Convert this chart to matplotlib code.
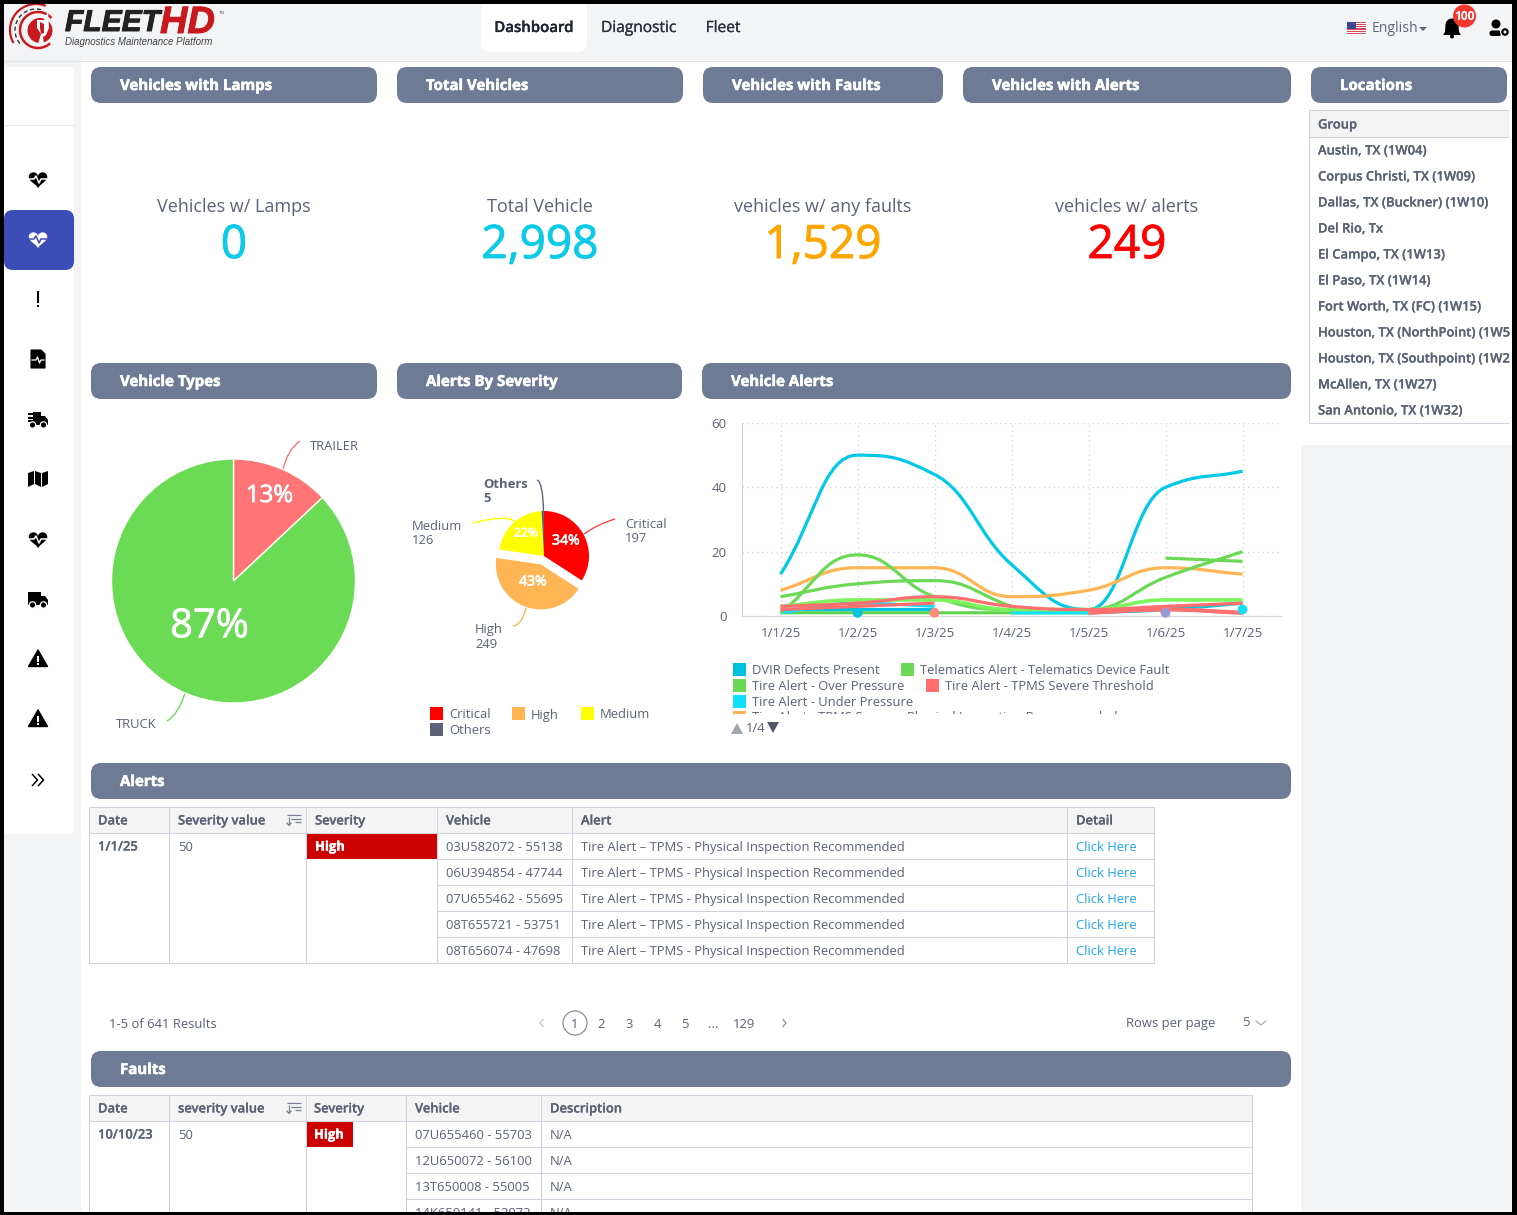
import numpy as np
import matplotlib
matplotlib.use('Agg')
import matplotlib.pyplot as plt
import matplotlib.patheffects as pe
from matplotlib.patches import FancyBboxPatch, Rectangle, Circle, Polygon, Wedge, PathPatch, Arc
from matplotlib.path import Path

W, H = 1517, 1215
plt.rcParams['font.family'] = ['Open Sans', 'DejaVu Sans']

# chart data
dates = ['1/1/25', '1/2/25', '1/3/25', '1/4/25', '1/5/25', '1/6/25', '1/7/25']
nan = float('nan')
alert_big = [13, 50, 44, 16, 2, 40, 45]
alert_physical = [8, 15, 15, 6, 8, 15, 13]
alert_over = [1, 19, 6, 2, 2, 12, 20]
alert_device = [6, 10, 11, 3, nan, 18, 17]
alert_light = [3, 5, 5, 2, 2, 5, 5]
alert_severe = [3, 4, 6, 3, 2, 3, 4]
alert_red2 = [2, 3, 4, nan, nan, nan, nan]
alert_red3 = [nan, nan, nan, nan, 1, 2, 1]
alert_under = [1, 4, 3, nan, nan, nan, nan]
alert_low = [nan, nan, nan, 1, 1, nan, nan]
alert_flat = [1, 1, 1, 1, 1, nan, nan]
alert_dvir = [2, 2, 2, nan, 1, 2, 4]
dot_dates = [1, 2, 5, 6]
dot_values = [1, 1, 1, 2]
dot_colors = ['#00C1DE', '#FF8A80', '#9A9AD8', '#11DDF5']

legend_rows = [
    [('DVIR Defects Present', '#00C1DE'), ('Telematics Alert - Telematics Device Fault', '#6BD955')],
    [('Tire Alert - Over Pressure', '#6BD955'), ('Tire Alert - TPMS Severe Threshold', '#FF6F6F')],
    [('Tire Alert - Under Pressure', '#0FE0FF')],
    [('Tire Alert - TPMS Severe - Physical Inspection Recommended', '#FFB554')],
]

vehicle_types = ['TRAILER', 'TRUCK']
vehicle_counts = [390, 2608]
severity_names = ['Critical', 'High', 'Medium', 'Others']
severity_counts = [197, 249, 126, 5]
severity_colors = ['#FF0000', '#FFB554', '#FFFF00', '#5A6378']

kpi_titles = ['Vehicles w/ Lamps', 'Total Vehicle', 'vehicles w/ any faults', 'vehicles w/ alerts']
kpi_values = ['0', '2,998', '1,529', '249']
kpi_colors = ['#0BCBE8', '#0BCBE8', '#FFA500', '#FF0000']

locations = ['Austin, TX (1W04)', 'Corpus Christi, TX (1W09)', 'Dallas, TX (Buckner) (1W10)', 'Del Rio, Tx',
             'El Campo, TX (1W13)', 'El Paso, TX (1W14)', 'Fort Worth, TX (FC) (1W15)',
             'Houston, TX (NorthPoint) (1W5', 'Houston, TX (Southpoint) (1W2', 'McAllen, TX (1W27)',
             'San Antonio, TX (1W32)']

alert_vehicles = ['03U582072 - 55138', '06U394854 - 47744', '07U655462 - 55695', '08T655721 - 53751', '08T656074 - 47698']
alert_text = 'Tire Alert \u2013 TPMS - Physical Inspection Recommended'
fault_vehicles = ['07U655460 - 55703', '12U650072 - 56100', '13T650008 - 55005', '14K650141 - 52072']

TEXT = '#5A6274'
DARK = '#4B5366'
LINE = '#CFD2DC'
BAR = '#6D7B94'
GREY = '#F3F4F6'

fig = plt.figure(figsize=(W / 100, H / 100), dpi=100, facecolor=GREY)
bg = fig.add_axes([0, 0, 1, 1], zorder=0)
bg.set_xlim(0, W)
bg.set_ylim(H, 0)
bg.axis('off')


def px(size):
    return size * 0.72


def heavy(t, amount, color):
    # the installed Open Sans comes out lighter than the screenshot, thicken it a bit
    t.set_path_effects([pe.withStroke(linewidth=amount, foreground=color)])


def txt(x, y, s, size=13, color=TEXT, weight='normal', ha='left', va='center', stroke=0, **kw):
    t = bg.text(x, y + 1, s, fontsize=px(size), color=color, fontweight=weight, ha=ha, va=va, **kw)
    if stroke:
        heavy(t, stroke, color)
    return t


def rect(x0, y0, x1, y1, color, z=1, **kw):
    bg.add_patch(Rectangle((x0, y0), x1 - x0, y1 - y0, fc=color, ec='none', zorder=z, **kw))


def rbox(x0, y0, x1, y1, color, r=10, z=2, **kw):
    bg.add_patch(FancyBboxPatch((x0, y0), x1 - x0, y1 - y0, boxstyle=f'round,pad=0,rounding_size={r}',
                                fc=color, ec='none', zorder=z, **kw))


def hline(x0, x1, y, color=LINE, lw=0.75, z=3):
    bg.plot([x0, x1], [y, y], color=color, lw=lw, zorder=z, solid_capstyle='butt')


def vline(x, y0, y1, color=LINE, lw=0.75, z=3):
    bg.plot([x, x], [y0, y1], color=color, lw=lw, zorder=z, solid_capstyle='butt')


def bar(x0, x1, y, title):
    rbox(x0, y, x1, y + 36, BAR)
    txt(x0 + 29, y + 18, title, size=15, color='white', weight='bold', zorder=4, stroke=0.4)


def heart_icon(cx, cy, fg, pulse):
    t = np.linspace(0, 2 * np.pi, 80)
    hx = 16 * np.sin(t) ** 3
    hy = 13 * np.cos(t) - 5 * np.cos(2 * t) - 2 * np.cos(3 * t) - np.cos(4 * t)
    bg.add_patch(Polygon(np.c_[cx + hx * 0.58, cy - hy * 0.56], fc=fg, ec='none', zorder=5))
    bg.plot([cx - 11, cx - 4, cx - 2, cx + 1, cx + 3, cx + 11], [cy, cy, cy - 3, cy + 4, cy, cy],
            color=pulse, lw=1.1, zorder=6)


def warn_icon(cx, cy):
    bg.add_patch(Polygon([(cx, cy - 9), (cx + 9.5, cy + 7.5), (cx - 9.5, cy + 7.5)], fc='black', ec='black',
                         lw=1, joinstyle='round', zorder=5))
    rect(cx - 1, cy - 3, cx + 1, cy + 2.5, 'white', z=6)
    rect(cx - 1, cy + 4, cx + 1, cy + 6, 'white', z=6)


def truck_wheels(cx, cy, bgcol='white'):
    for dx in (-5.5, 5.5):
        bg.add_patch(Circle((cx + dx, cy + 6), 3.2, fc='black', ec=bgcol, lw=0.9, zorder=7))


def sort_icon(x, y):
    for i, (a, b) in enumerate([(0, 14), (4, 14), (8, 14)]):
        hline(x + a, x + b, y - 5 + i * 3.5, color='#777E8E', lw=0.9, z=5)
    vline(x + 2, y - 3, y + 5, color='#777E8E', lw=0.9, z=5)
    bg.plot([x, x + 2, x + 4], [y + 3, y + 5.5, y + 3], color='#777E8E', lw=0.9, zorder=5)


# page regions
rect(81, 60, 1301, H, 'white')
rect(1301, 60, W, 445, 'white')
hline(0, W, 60.5, color='#E2E4E8')

# top nav
rbox(481, -6, 587, 52, 'white')
txt(534, 27, 'Dashboard', size=15, color='#20242E', weight=600, ha='center', zorder=4, stroke=0.2)
txt(639, 27, 'Diagnostic', size=15.5, color='#2C313D', ha='center', stroke=0.2)
txt(723, 27, 'Fleet', size=15.5, color='#2C313D', ha='center', stroke=0.2)

# logo
bg.add_patch(Arc((36, 30), 52, 52, theta1=150, theta2=292, color='#C8191E', lw=1.6, zorder=3))
bg.add_patch(Arc((36, 30), 42, 42, theta1=140, theta2=290, color='#333333', lw=1, ls=(0, (3, 2)), zorder=3))
bg.add_patch(Arc((38, 30), 36, 36, theta1=48, theta2=318, color='#C8191E', lw=1.8, zorder=3))
bg.add_patch(Circle((40, 30.5), 12.5, fc='#C8191E', ec='none', zorder=3))
bg.add_patch(Polygon([(37, 20), (44, 20), (48, 11), (49, 28), (46, 35), (43, 37), (44, 44), (38, 44), (41, 34), (37, 28)],
                     fc='white', ec='none', zorder=4))
bg.add_patch(Polygon([(40, 22), (44, 24), (44, 33), (41, 34), (40, 28)], fc='#C8191E', ec='none', zorder=5))
txt(65, 22, 'FLEET', size=30, color='#222222', weight='bold', style='italic', family='Liberation Sans', stroke=0.7)
txt(160, 22, 'HD', size=38, color='#C8191E', weight='bold', style='italic', family='Liberation Sans', stroke=0.7)
txt(65, 41, 'Diagnostics Maintenance Platform', size=9.8, color='#444444', style='italic', family='Liberation Sans')
txt(219, 12, 'TM', size=4, color='#555555', family='Liberation Sans')

# right of the nav
rect(1347, 22, 1366, 35, 'white', z=3)
for i in range(7):
    rect(1347, 22 + i * 1.86, 1366, 22 + i * 1.86 + 0.95, '#D9495A', z=4)
rect(1347, 22, 1356, 29, '#3C4A8C', z=5)
txt(1372, 28, 'English', size=14, color='#5F6675')
bg.add_patch(Polygon([(1419, 27), (1427, 27), (1423, 31)], fc='#5F6675', ec='none', zorder=4))
bg.add_patch(Wedge((1452, 25), 6.5, 180, 360, fc='black', ec='none', zorder=4, transform=bg.transData))
bg.add_patch(Polygon([(1445.5, 25), (1458.5, 25), (1459, 32), (1461, 35), (1443, 35), (1445, 32)], fc='black', zorder=4))
bg.add_patch(Circle((1452, 36.5), 2, fc='black', zorder=4))
bg.add_patch(Circle((1464.5, 16), 11.5, fc='#F2392F', ec='none', zorder=5))
txt(1464.5, 15.5, '100', size=12, color='white', weight='bold', ha='center', zorder=6)
bg.add_patch(Circle((1496, 24), 4.5, fc='black', zorder=4))
bg.add_patch(FancyBboxPatch((1489.5, 30.5), 12, 5.5, boxstyle='round,pad=0,rounding_size=2.5', fc='black', ec='none', zorder=4))
bg.add_patch(Circle((1505, 32), 4.4, fc='black', ec='white', lw=0.8, zorder=5))
bg.add_patch(Circle((1505, 32), 1.5, fc='white', ec='none', zorder=6))

# side menu
rbox(4, 67, 74, 834, 'white', r=4)
hline(4, 74, 125, color='#E6E7EA')
rbox(4, 210, 74, 270, '#3D4DB7', r=9, z=3)
heart_icon(38, 179, 'black', 'white')
heart_icon(38, 239, 'white', '#3D4DB7')
rect(36.8, 291, 39.4, 303, 'black', z=5)
rect(36.8, 304.5, 39.4, 307, 'black', z=5)
bg.add_patch(Polygon([(31, 350), (41, 350), (45, 354), (45, 368), (31, 368)], fc='black', ec='black', lw=0.8,
                     joinstyle='round', zorder=5))
bg.plot([32, 36, 37.5, 39.5, 41, 44], [360, 360, 357, 363, 360, 360], color='white', lw=0.9, zorder=6)
for cy, full in ((419, False), (599, True)):
    rect(33 if not full else 28, cy - 7, 41, cy + 6, 'black', z=5)
    bg.add_patch(Polygon([(41, cy - 3), (45, cy - 3), (48, cy + 1), (48, cy + 6), (41, cy + 6)], fc='black', zorder=5))
    truck_wheels(38, cy)
    if not full:
        for dy in (-5, -1.5, 2):
            hline(28, 36, cy + dy, color='black', lw=1.5, z=5)
bg.add_patch(Polygon([(28, 473), (34, 471), (34, 484), (28, 487)], fc='black', ec='none', zorder=5))
bg.add_patch(Polygon([(35, 471), (41, 473), (41, 487), (35, 484)], fc='black', ec='none', zorder=5))
bg.add_patch(Polygon([(42, 473), (48, 471), (48, 484), (42, 487)], fc='black', ec='none', zorder=5))
heart_icon(38, 539, 'black', 'white')
warn_icon(38, 659)
warn_icon(38, 719)
for dx in (0, 6):
    bg.plot([32.5 + dx, 37.5 + dx, 32.5 + dx], [774.5, 780, 785.5], color='black', lw=1.1, zorder=5)

# section bars
for x0, x1, y, title in [(91, 377, 67, 'Vehicles with Lamps'), (397, 683, 67, 'Total Vehicles'),
                         (703, 943, 67, 'Vehicles with Faults'), (963, 1291, 67, 'Vehicles with Alerts'),
                         (1311, 1507, 67, 'Locations'), (91, 377, 363, 'Vehicle Types'),
                         (397, 682, 363, 'Alerts By Severity'), (702, 1291, 363, 'Vehicle Alerts'),
                         (91, 1291, 763, 'Alerts'), (91, 1291, 1051, 'Faults')]:
    bar(x0, x1, y, title)

# kpis
for cx, title, value, col in zip([234, 540, 823, 1127], kpi_titles, kpi_values, kpi_colors):
    txt(cx, 206.5, title, size=18, color=TEXT, ha='center')
    txt(cx, 245, value, size=46, color=col, ha='center', stroke=0.6)

# locations
rect(1310, 111, 1509, 137, '#F3F3F4')
hline(1309.5, 1509, 110)
hline(1309.5, 1509, 137)
hline(1309.5, 1509, 423)
vline(1309.5, 110, 423)
txt(1318, 124, 'Group', size=13, color=TEXT, weight=600, stroke=0.15)
for i, name in enumerate(locations):
    txt(1318, 150 + 26 * i, name, size=13, color=TEXT, weight=600, stroke=0.15)


# vehicle types pie
def pie_axes(cx, cy, r):
    ax = fig.add_axes([(cx - 1.25 * r) / W, 1 - (cy + 1.25 * r) / H, 2.5 * r / W, 2.5 * r / H], zorder=2)
    ax.patch.set_alpha(0)
    return ax


def set_pct(autotexts, R, spots, sizes):
    for at, (dx, dy), s in zip(autotexts, spots, sizes):
        at.set_position((dx / R, -dy / R))
        at.set_fontsize(px(s))
        at.set_color('white')
        heavy(at, 0.5, 'white')


ax1 = pie_axes(233.5, 581, 122)
_, _, pct1 = ax1.pie(vehicle_counts, colors=['#FF7474', '#6BDB55'], startangle=90, counterclock=False,
                     autopct='%1.0f%%', wedgeprops={'edgecolor': 'white', 'linewidth': 1})
ax1.set_xlim(-1.25, 1.25)
ax1.set_ylim(-1.25, 1.25)
set_pct(pct1, 122, [(36, -85), (-24, 46)], [24, 40])

ax2 = pie_axes(544, 556, 45)
_, _, pct2 = ax2.pie(severity_counts, colors=severity_colors, explode=[0, 0.2, 0, 0], startangle=90,
                     counterclock=False, autopct='%1.0f%%')
ax2.set_xlim(-1.25, 1.25)
ax2.set_ylim(-1.25, 1.25)
set_pct(pct2, 45, [(22, -15), (-11, 26), (-18, -23)], [14, 14, 12])
pct2[3].set_visible(False)


def leader(pts, color, lw=1):
    verts = [pts[0]] + list(pts[1:])
    codes = [Path.MOVETO] + [Path.CURVE3] * (len(pts) - 1)
    bg.add_patch(PathPatch(Path(verts, codes), fc='none', ec=color, lw=lw, zorder=6))


leader([(283, 470), (287, 450), (300, 441)], '#FF7474')
leader([(185, 693), (178, 715), (167, 721)], '#6BDB55')
txt(310, 445, vehicle_types[0], size=13)
txt(116, 723, vehicle_types[1], size=13)
leader([(584, 534), (598, 524), (615, 519)], '#FF4444')
leader([(473, 523), (508, 514), (515, 522)], '#FFFF00')
leader([(526, 608), (522, 625), (513, 626)], '#FFB554')
leader([(537, 480), (543, 482), (543.5, 512)], '#5A6378')
txt(625, 523, 'Critical', size=13)
txt(625, 537, str(severity_counts[0]), size=13)
txt(412, 526, 'Medium', size=13)
txt(412, 540, str(severity_counts[2]), size=13)
txt(475, 629, 'High', size=13)
txt(475, 643, str(severity_counts[1]), size=13)
txt(483, 484, 'Others', size=13, weight='bold')
txt(483, 498, str(severity_counts[3]), size=13, weight='bold')
for x, y, name, col in zip([430, 512, 581, 430], [707, 707, 707, 723], severity_names, severity_colors):
    rect(x, y, x + 13, y + 13, col)
    txt(x + 19, y + 7, name, size=13)


# vehicle alerts line chart
def smooth_path(xs, ys):
    xs = np.asarray(xs, float)
    ys = np.asarray(ys, float)
    d = np.diff(ys)
    m = np.zeros(len(ys))
    for i in range(1, len(ys) - 1):
        if d[i - 1] * d[i] > 0:
            m[i] = np.sign(d[i]) * min(abs(d[i - 1] + d[i]) / 2, 2 * min(abs(d[i - 1]), abs(d[i])))
    m[0], m[-1] = d[0], d[-1]
    verts = [(xs[0], ys[0])]
    for i in range(len(ys) - 1):
        h = (xs[i + 1] - xs[i]) * 0.45
        verts += [(xs[i] + h, ys[i] + m[i] * 0.45), (xs[i + 1] - h, ys[i + 1] - m[i + 1] * 0.45), (xs[i + 1], ys[i + 1])]
    return Path(verts, [Path.MOVETO] + [Path.CURVE4] * (3 * (len(ys) - 1)))


def draw_series(ax, values, color, lw):
    vals = np.asarray(values, float)
    idx = np.arange(len(vals))
    good = ~np.isnan(vals)
    # broken series: each run of real values gets its own curve
    for run in np.split(idx[good], np.where(np.diff(idx[good]) > 1)[0] + 1):
        if len(run) > 1:
            ax.add_patch(PathPatch(smooth_path(run, vals[run]), fc='none', ec=color, lw=lw, capstyle='butt', zorder=3))


ax3 = fig.add_axes([742 / W, 1 - 616 / H, 539 / W, 193 / H], zorder=2)
ax3.patch.set_alpha(0)
ax3.set_xlim(-0.5, 6.5)
ax3.set_ylim(0, 60)
ax3.set_xticks(range(len(dates)), dates)
ax3.set_yticks([0, 20, 40, 60])
ax3.tick_params(length=0, labelsize=px(13.4), labelcolor=TEXT, pad=8)
ax3.tick_params(axis='y', pad=11)
ax3.grid(True, color='#D6D8DE', lw=1, ls=(0, (1, 2.5)))
ax3.set_axisbelow(True)
for side in ('top', 'right'):
    ax3.spines[side].set_visible(False)
for side in ('left', 'bottom'):
    ax3.spines[side].set_color('#D4D7E0')

draw_series(ax3, alert_flat, '#5FD44A', 2.2)
draw_series(ax3, alert_dvir, '#00C1DE', 2.4)
draw_series(ax3, alert_under, '#0FE0FF', 2.2)
draw_series(ax3, alert_low, '#0FE0FF', 2.4)
draw_series(ax3, alert_big, '#00C8E6', 2.3)
draw_series(ax3, alert_physical, '#FFB554', 2.3)
draw_series(ax3, alert_over, '#6BD955', 2.3)
draw_series(ax3, alert_device, '#6BD955', 2.3)
draw_series(ax3, alert_light, '#7CF55C', 2.6)
draw_series(ax3, alert_severe, '#FF6F6F', 2.3)
draw_series(ax3, alert_red2, '#FF6F6F', 2.3)
draw_series(ax3, alert_red3, '#FF6F6F', 3.0)
ax3.scatter(dot_dates, dot_values, s=50, c=dot_colors, zorder=4, clip_on=False, linewidths=0)

# chart legend, clipped on the fourth row
legend_clip = Rectangle((725, 660), 500, 54, transform=bg.transData)
legend_starts = [[733, 901], [733, 926], [733], [733]]
for row, (items, starts) in enumerate(zip(legend_rows, legend_starts)):
    y = 663 + 16 * row
    for (name, col), x in zip(items, starts):
        r = Rectangle((x, y), 13, 13, fc=col, ec='none', zorder=3)
        bg.add_patch(r)
        r.set_clip_path(legend_clip)
        t = txt(x + 19, y + 6, name, size=13)
        t.set_clip_on(True)
        t.set_clip_path(legend_clip)
bg.add_patch(Polygon([(731, 734), (743, 734), (737, 723)], fc='#9FA5B2', ec='none', zorder=3))
txt(746, 727, '1/4', size=13, color=TEXT)
bg.add_patch(Polygon([(767, 722), (779, 722), (773, 733)], fc='#4F5768', ec='none', zorder=3))


# tables
def table_frame(cols, top, rows, rule_from, bottom):
    rect(cols[0], top, cols[-1], top + 26, '#F4F4F5', z=1.5)
    hline(cols[0], cols[-1], top)
    hline(cols[0], cols[-1], top + 26)
    for r in range(1, rows + 1):
        hline(cols[rule_from], cols[-1], top + 26 + 26 * r)
    if bottom <= top + 26 + 26 * rows:
        hline(cols[0], cols[-1], bottom)
    for c in cols:
        vline(c, top, bottom)


cols1 = [89.5, 169.5, 306.5, 437.5, 572.5, 1067.5, 1154.5]
table_frame(cols1, 807, 5, 3, 963)
for x, name in zip([98, 178, 315, 446, 581, 1076], ['Date', 'Severity value', 'Severity', 'Vehicle', 'Alert', 'Detail']):
    txt(x, 820, name, size=13, color=TEXT, weight=600, stroke=0.15)
sort_icon(287, 820)
txt(98, 846, '1/1/25', size=13, color=TEXT, weight=600, stroke=0.15)
txt(178, 846.4, '50', size=13)
rect(307, 834, 437, 859, '#CC0000', z=2)
txt(315, 846, 'High', size=13, color='white', weight='bold', zorder=4, stroke=0.3)
for i, v in enumerate(alert_vehicles):
    y = 846.4 + 26 * i
    txt(446, y, v, size=13)
    txt(581, y, alert_text, size=13)
    txt(1076, y, 'Click Here', size=13, color='#1EA7E6')

txt(109, 1023, '1-5 of 641 Results', size=13)
bg.add_patch(Circle((575, 1023), 12, fc='none', ec='#8A8F9C', lw=0.9, zorder=3))
for x, s in zip([575, 601, 629, 657, 685, 713, 744], ['1', '2', '3', '4', '5', '...', '129']):
    txt(x, 1023, s, size=13, ha='center')
bg.plot([543, 540, 543], [1019.5, 1023, 1026.5], color='#C5C8D0', lw=0.9)
bg.plot([783, 786, 783], [1019.5, 1023, 1026.5], color='#8A8F9C', lw=0.9)
txt(1126, 1023, 'Rows per page', size=13)
txt(1242, 1022, '5', size=13)
bg.plot([1256, 1261, 1266], [1021, 1025, 1021], color='#9AA0AC', lw=0.8)

cols2 = [89.5, 169.5, 306.5, 406.5, 541.5, 1252.5]
table_frame(cols2, 1095, 4, 3, 1215)
for x, name in zip([98, 178, 314, 415, 550], ['Date', 'severity value', 'Severity', 'Vehicle', 'Description']):
    txt(x, 1108, name, size=13, color=TEXT, weight=600, stroke=0.15)
sort_icon(287, 1108)
txt(98, 1134, '10/10/23', size=13, color=TEXT, weight=600, stroke=0.15)
txt(178, 1134.4, '50', size=13)
rect(307, 1122, 353, 1147, '#CC0000', z=2)
txt(314, 1134, 'High', size=13, color='white', weight='bold', zorder=4, stroke=0.3)
for i, v in enumerate(fault_vehicles):
    y = 1134.4 + 26 * i
    txt(415, y, v, size=13)
    txt(550, y, 'N/A', size=13)

# black frame of the screenshot, above everything
frame = fig.add_axes([0, 0, 1, 1], zorder=5)
frame.set_xlim(0, W)
frame.set_ylim(H, 0)
frame.axis('off')
frame.patch.set_alpha(0)
for x, y, w, h in [(0, 0, W, 4), (0, 1211.5, W, 4), (0, 0, 4, H), (1512.5, 0, 5, H)]:
    frame.add_patch(Rectangle((x, y), w, h, fc='black', ec='none'))

fig.savefig('out.png', dpi=100, facecolor=fig.get_facecolor())
